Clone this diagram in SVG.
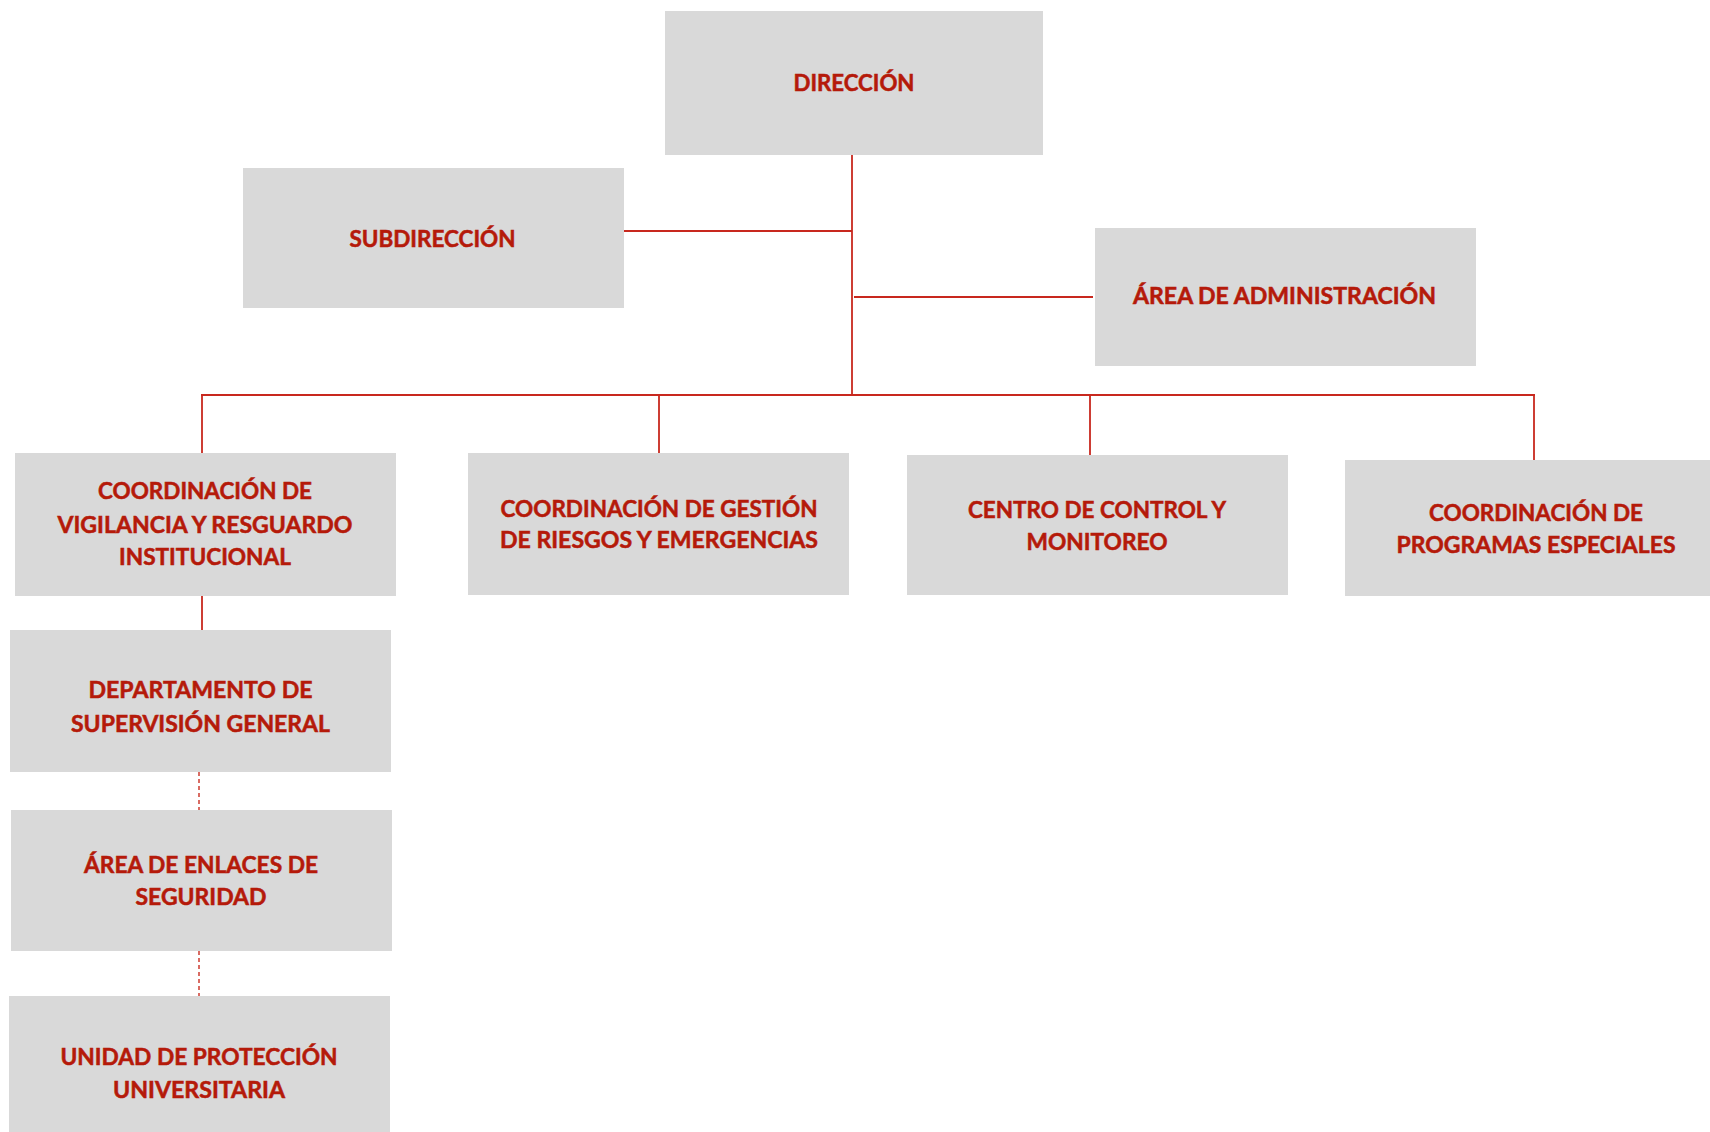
<svg xmlns="http://www.w3.org/2000/svg" width="1710" height="1132" viewBox="0 0 1710 1132">
<style>
.box{fill:#d9d9d9}
.lbl{font-family:Lato,"Open Sans","Liberation Sans",sans-serif;font-weight:bold;font-size:23.5px;fill:#b51a0a;stroke:#b51a0a;stroke-width:0.55;text-anchor:middle}
.ln{stroke:#c8281e;stroke-width:1.8;fill:none}
.dash{stroke:#d0473c;stroke-width:1.6;fill:none;stroke-dasharray:4 3}
</style>
<rect width="1710" height="1132" fill="#ffffff"/>
<g id="connectors">
<line class="ln" x1="852" y1="155" x2="852" y2="395"/>
<line class="ln" x1="624" y1="231" x2="852" y2="231"/>
<line class="ln" x1="854" y1="297" x2="1093" y2="297"/>
<line class="ln" x1="201" y1="395" x2="1535" y2="395"/>
<line class="ln" x1="202" y1="395" x2="202" y2="453"/>
<line class="ln" x1="659" y1="395" x2="659" y2="453"/>
<line class="ln" x1="1090" y1="395" x2="1090" y2="455"/>
<line class="ln" x1="1534" y1="395" x2="1534" y2="460"/>
<line class="ln" x1="202" y1="596" x2="202" y2="630"/>
<line class="dash" x1="199" y1="772" x2="199" y2="810"/>
<line class="dash" x1="199" y1="951" x2="199" y2="996"/>
</g>
<g id="direccion">
<rect class="box" x="665" y="11" width="378" height="144"/>
<text class="lbl" x="854" y="91" textLength="121" lengthAdjust="spacingAndGlyphs">DIRECCIÓN</text>
</g>
<g id="subdireccion">
<rect class="box" x="243" y="168" width="381" height="140"/>
<text class="lbl" x="432.5" y="247" textLength="166" lengthAdjust="spacingAndGlyphs">SUBDIRECCIÓN</text>
</g>
<g id="administracion">
<rect class="box" x="1095" y="228" width="381" height="138"/>
<text class="lbl" x="1284.5" y="304" textLength="303" lengthAdjust="spacingAndGlyphs">ÁREA DE ADMINISTRACIÓN</text>
</g>
<g id="vigilancia">
<rect class="box" x="15" y="453" width="381" height="143"/>
<text class="lbl" x="205" y="499" textLength="214" lengthAdjust="spacingAndGlyphs">COORDINACIÓN DE</text>
<text class="lbl" x="205" y="533" textLength="295" lengthAdjust="spacingAndGlyphs">VIGILANCIA Y RESGUARDO</text>
<text class="lbl" x="205" y="565" textLength="172" lengthAdjust="spacingAndGlyphs">INSTITUCIONAL</text>
</g>
<g id="gestion">
<rect class="box" x="468" y="453" width="381" height="142"/>
<text class="lbl" x="659" y="517" textLength="317" lengthAdjust="spacingAndGlyphs">COORDINACIÓN DE GESTIÓN</text>
<text class="lbl" x="659" y="548" textLength="318" lengthAdjust="spacingAndGlyphs">DE RIESGOS Y EMERGENCIAS</text>
</g>
<g id="centro">
<rect class="box" x="907" y="455" width="381" height="140"/>
<text class="lbl" x="1097" y="518" textLength="258" lengthAdjust="spacingAndGlyphs">CENTRO DE CONTROL Y</text>
<text class="lbl" x="1097" y="550" textLength="141" lengthAdjust="spacingAndGlyphs">MONITOREO</text>
</g>
<g id="programas">
<rect class="box" x="1345" y="460" width="381" height="136"/>
<text class="lbl" x="1536" y="521" textLength="214" lengthAdjust="spacingAndGlyphs">COORDINACIÓN DE</text>
<text class="lbl" x="1536" y="553" textLength="279" lengthAdjust="spacingAndGlyphs">PROGRAMAS ESPECIALES</text>
</g>
<g id="departamento">
<rect class="box" x="10" y="630" width="381" height="142"/>
<text class="lbl" x="200.5" y="698" textLength="224" lengthAdjust="spacingAndGlyphs">DEPARTAMENTO DE</text>
<text class="lbl" x="200.5" y="732" textLength="259" lengthAdjust="spacingAndGlyphs">SUPERVISIÓN GENERAL</text>
</g>
<g id="enlaces">
<rect class="box" x="11" y="810" width="381" height="141"/>
<text class="lbl" x="201" y="873" textLength="234" lengthAdjust="spacingAndGlyphs">ÁREA DE ENLACES DE</text>
<text class="lbl" x="201" y="905" textLength="131" lengthAdjust="spacingAndGlyphs">SEGURIDAD</text>
</g>
<g id="unidad">
<rect class="box" x="9" y="996" width="381" height="142"/>
<text class="lbl" x="199" y="1065" textLength="277" lengthAdjust="spacingAndGlyphs">UNIDAD DE PROTECCIÓN</text>
<text class="lbl" x="199" y="1098" textLength="172" lengthAdjust="spacingAndGlyphs">UNIVERSITARIA</text>
</g>
</svg>
